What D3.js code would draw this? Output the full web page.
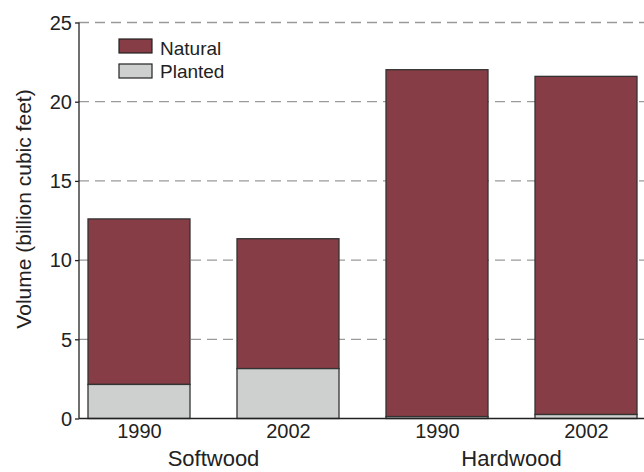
<!DOCTYPE html>
<html><head><meta charset="utf-8">
<script src="https://cdn.jsdelivr.net/npm/d3@7"></script>
<style>body{margin:0;background:#fff}svg{display:block;font-family:"Liberation Sans",Arial,sans-serif}</style>
</head><body><svg id="c" width="644" height="472"></svg>
<script>
const bars = ["Softwood 1990","Softwood 2002","Hardwood 1990","Hardwood 2002"];
const yearLabels = ["1990","2002","1990","2002"];
const groups = ["Softwood","Hardwood"];
const planted = [2.15, 3.15, 0.12, 0.25];
const natural = [10.45, 8.2, 21.9, 21.35];
const seriesNames = ["Natural","Planted"];
const yTicks = [0,5,10,15,20,25];

const svg = d3.select("#c");
const x = d3.scalePoint().domain(bars).range([139, 586]);
const bw = 102;
const y = d3.scaleLinear().domain([0,25]).range([418.5, 22.5]);
const colNat = "#873d45", colPl = "#cdd0ce";
const ff = "Liberation Sans, Arial, sans-serif";

// gridlines
svg.append("g").selectAll("line").data(yTicks.filter(d=>d>0)).join("line")
  .attr("x1",79).attr("x2",644).attr("y1",d=>y(d)).attr("y2",d=>y(d))
  .attr("stroke","#9a9a9a").attr("stroke-width",1.3).attr("stroke-dasharray","10,6");

// bars
const g = svg.append("g");
bars.forEach((b,i)=>{
  g.append("rect").attr("x",x(b)-bw/2).attr("width",bw)
    .attr("y",y(planted[i]+natural[i])).attr("height",y(planted[i])-y(planted[i]+natural[i]))
    .attr("fill",colNat).attr("stroke","#333").attr("stroke-width",1.3);
  g.append("rect").attr("x",x(b)-bw/2).attr("width",bw)
    .attr("y",y(planted[i])).attr("height",y(0)-y(planted[i]))
    .attr("fill",colPl).attr("stroke","#333").attr("stroke-width",1.3);
});

// y axis
const ya = svg.append("g").attr("transform","translate(79,0)")
  .call(d3.axisLeft(y).tickValues(yTicks).tickSize(4).tickPadding(3));
ya.select(".domain").attr("stroke","#222").attr("stroke-width",1.3).attr("d","M0,22.5V418.5");
ya.selectAll(".tick line").attr("stroke","#222").attr("stroke-width",1.3);
ya.selectAll("text").attr("font-size",20).attr("fill","#222").attr("font-family",ff).attr("dy","0.34em");

// x axis
const xa = svg.append("g").attr("transform","translate(0,418.5)")
  .call(d3.axisBottom(x).tickSize(0).tickPadding(5).tickFormat((d,i)=>yearLabels[i]));
xa.select(".domain").attr("stroke","#222").attr("stroke-width",1.3).attr("d","M79,0H644");
xa.selectAll("text").attr("font-size",20).attr("fill","#222").attr("font-family",ff);

// group labels
groups.forEach((gname,i)=>{
  const cx = (x(bars[2*i])+x(bars[2*i+1]))/2;
  svg.append("text").attr("x",cx).attr("y",466).attr("text-anchor","middle")
    .attr("font-size",22).attr("fill","#222").text(gname);
});

// y title
svg.append("text").attr("transform","translate(31,209) rotate(-90)")
  .attr("text-anchor","middle").attr("font-size",21).attr("fill","#222")
  .text("Volume (billion cubic feet)");

// legend
const leg = svg.append("g");
seriesNames.forEach((s,i)=>{
  leg.append("rect").attr("x",119).attr("y",39+i*25).attr("width",33).attr("height",14)
    .attr("fill",i===0?colNat:colPl).attr("stroke","#222").attr("stroke-width",1.2);
  leg.append("text").attr("x",160).attr("y",54.5+i*23.5).attr("font-size",19).attr("fill","#222").text(s);
});
</script></body></html>
